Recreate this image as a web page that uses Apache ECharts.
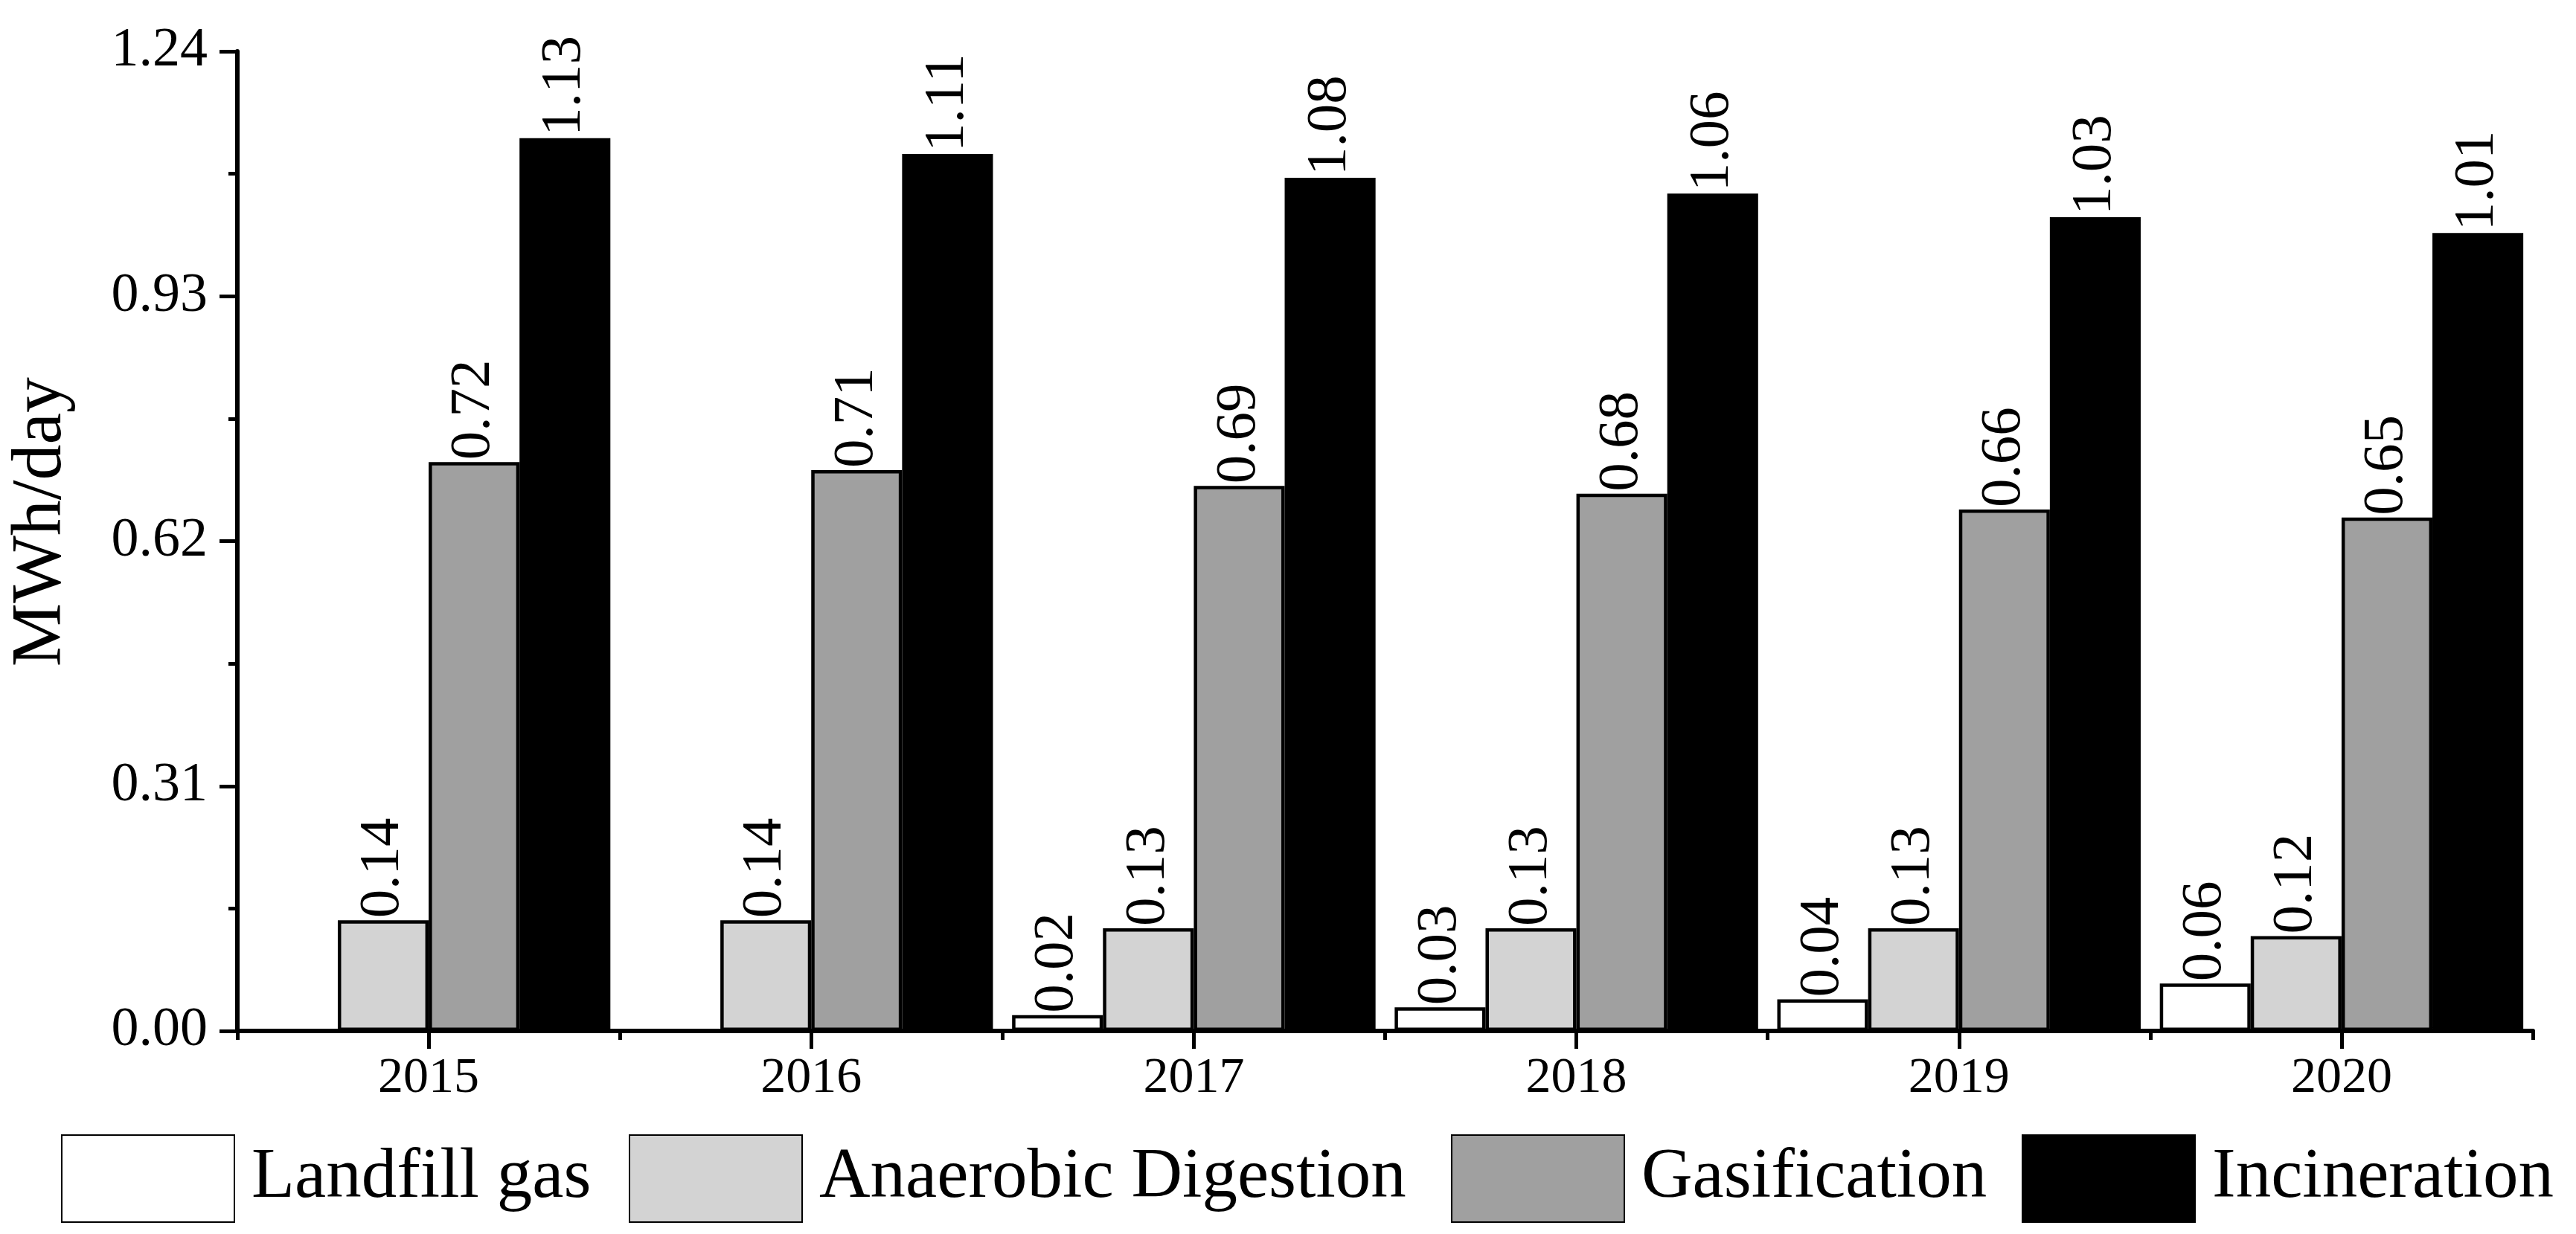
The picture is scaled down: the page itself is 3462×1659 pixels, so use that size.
<!DOCTYPE html>
<html>
<head>
<meta charset="utf-8">
<script src="https://cdn.jsdelivr.net/npm/echarts@6/dist/echarts.min.js"></script>
<style>html,body{margin:0;padding:0;background:#fff;}#c{width:3462px;height:1659px;}</style>
</head>
<body>
<div id="c"></div>
<script>
var years = ['2015', '2016', '2017', '2018', '2019', '2020'];
var landfillGas = [0, 0, 0.02, 0.03, 0.04, 0.06];
var anaerobicDigestion = [0.14, 0.14, 0.13, 0.13, 0.13, 0.12];
var gasification = [0.72, 0.71, 0.69, 0.68, 0.66, 0.65];
var incineration = [1.13, 1.11, 1.08, 1.06, 1.03, 1.01];
var seriesNames = ['Landfill gas', 'Anaerobic Digestion', 'Gasification', 'Incineration'];
var seriesColors = ['#ffffff', '#d3d3d3', '#a0a0a0', '#000000'];
var yTicks = { min: 0, max: 1.24, interval: 0.31 };

var FONT = 'Liberation Serif';
var chart = echarts.init(document.getElementById('c'));
var dataSets = [landfillGas, anaerobicDigestion, gasification, incineration];
var legendLefts = [77, 840, 1945, 2712];

var series = dataSets.map(function (d, i) {
  return {
    name: seriesNames[i],
    type: 'bar',
    xAxisIndex: 0,
    data: d,
    barGap: '0%',
    barCategoryGap: '5%',
    itemStyle: { color: seriesColors[i], borderColor: '#000', borderWidth: 4.5 },
    label: {
      show: true,
      position: 'top',
      rotate: 90,
      align: 'left',
      verticalAlign: 'middle',
      distance: 3,
      fontFamily: FONT,
      fontSize: 77,
      color: '#000',
      formatter: function (p) { return p.value === 0 ? '' : p.value.toFixed(2); }
    }
  };
});

var legends = seriesNames.map(function (n, i) {
  return {
    data: [n],
    left: legendLefts[i],
    top: 1520,
    orient: 'horizontal',
    icon: 'rect',
    itemWidth: 232,
    itemHeight: 117,
    selectedMode: false,
    textStyle: { fontFamily: FONT, fontSize: 95, color: '#000', padding: [0, 0, 0, 18] }
  };
});

chart.setOption({
  animation: false,
  backgroundColor: '#fff',
  textStyle: { fontFamily: FONT, color: '#000' },
  grid: { left: 309, right: 58, top: 69, bottom: 273, containLabel: false },
  legend: legends,
  xAxis: [
    {
      type: 'category',
      data: years,
      position: 'bottom',
      axisLine: { show: true, onZero: false, lineStyle: { color: '#000', width: 6 } },
      axisTick: { show: true, alignWithLabel: true, inside: false, length: 24, lineStyle: { color: '#000', width: 5 } },
      axisLabel: { show: true, margin: 30, fontFamily: FONT, fontSize: 68, color: '#000' },
      splitLine: { show: false }
    },
    {
      type: 'category',
      data: years,
      position: 'bottom',
      axisLine: { show: false },
      axisTick: { show: true, alignWithLabel: false, inside: false, length: 12, lineStyle: { color: '#000', width: 5 } },
      axisLabel: { show: false },
      splitLine: { show: false }
    }
  ],
  yAxis: {
    type: 'value',
    min: yTicks.min,
    max: yTicks.max,
    interval: yTicks.interval,
    name: 'MWh/day',
    nameLocation: 'middle',
    nameGap: 215,
    nameTextStyle: { fontFamily: FONT, fontSize: 96, color: '#000', padding: [0, 0, 0, 52] },
    axisLine: { show: true, lineStyle: { color: '#000', width: 6 } },
    axisTick: { show: true, inside: false, length: 24, lineStyle: { color: '#000', width: 5 } },
    minorTick: { show: true, splitNumber: 2, length: 12, lineStyle: { color: '#000', width: 5 } },
    axisLabel: { margin: 40, fontFamily: FONT, fontSize: 74, color: '#000', formatter: function (v) { return v.toFixed(2); } },
    splitLine: { show: false },
    minorSplitLine: { show: false }
  },
  series: series
});
</script>
</body>
</html>
